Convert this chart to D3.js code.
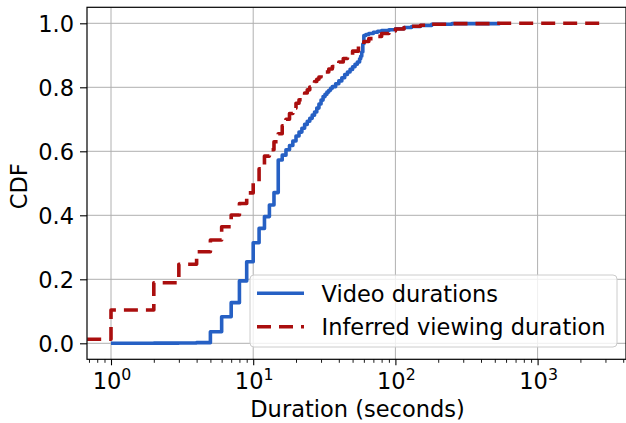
<!DOCTYPE html>
<html>
<head>
<meta charset="utf-8">
<script src="https://cdn.jsdelivr.net/npm/d3@7"></script>
<style>
  html, body { margin: 0; padding: 0; background: #fff; }
  svg { display: block; font-family: "DejaVu Sans", sans-serif; }
</style>
</head>
<body>
<svg id="chart" width="626" height="423"></svg>
<script>
// ---- data ----
const blueName = "Video durations";
const redName = "Inferred viewing duration";
const blueX = [1,2,3,4,5,6,7,8,9,10,11,12,13,14,15,16,17,18,19,20,21,22,23,24,25,26,27,28,29,30,31,32,33,34,35,36,38,40,42,44,46,48,50,52,54,56,57,58,59,60,62,65,70,75,80,90,100,115,130,150,180,250,540];
const blueY = [0.0,0.0005,0.001,0.002,0.036,0.083,0.127,0.195,0.255,0.314,0.359,0.396,0.432,0.471,0.573,0.588,0.605,0.618,0.632,0.648,0.66,0.672,0.684,0.694,0.703,0.713,0.723,0.735,0.748,0.76,0.771,0.778,0.785,0.791,0.797,0.802,0.811,0.82,0.83,0.84,0.848,0.856,0.864,0.872,0.879,0.889,0.897,0.91,0.935,0.962,0.965,0.968,0.972,0.975,0.977,0.98,0.983,0.987,0.99,0.993,0.997,0.999,1.0];
const redX = [0.68,1,2,3,4,5,6,7,8,9,10,11,12,13,14,15,16,17,18,19,20,21,22,23,24,25,26,27,28,29,30,32,34,36,38,40,43,46,50,55,60,65,70,80,90,100,115,130,150,175,250,500,2800];
const redY = [0.0125,0.104,0.189,0.247,0.286,0.323,0.364,0.401,0.437,0.470,0.505,0.545,0.585,0.605,0.63,0.655,0.68,0.70,0.718,0.735,0.75,0.761,0.772,0.782,0.792,0.801,0.81,0.818,0.825,0.832,0.838,0.848,0.857,0.865,0.872,0.879,0.89,0.901,0.913,0.928,0.943,0.952,0.959,0.968,0.976,0.982,0.987,0.991,0.994,0.997,0.999,1.0,1.0];
const xMajorTicks = [1, 10, 100, 1000];
const xTickExp = ["0", "1", "2", "3"];
const yTicks = [0, 0.2, 0.4, 0.6, 0.8, 1.0];
const yTickLabels = ["0.0", "0.2", "0.4", "0.6", "0.8", "1.0"];
const xLabel = "Duration (seconds)";
const yLabel = "CDF";

// ---- layout ----
const L = 87, R = 626, T = 7.3, B = 359.3;
const FS = 22.5;
const blueColor = "#2660c4";
const redColor = "#aa0e0e";
const LW = 3.6;
const DASH = "14,8";

const svg = d3.select("#chart");
svg.append("rect").attr("width", 626).attr("height", 423).attr("fill", "#fff");

const x = d3.scaleLog().domain([Math.pow(10, -0.1688), Math.pow(10, 3.6217)]).range([L, R]);
const y = d3.scaleLinear().domain([-0.05, 1.05]).range([B, T]);

// grid
const grid = svg.append("g");
grid.selectAll(".gx").data(xMajorTicks).enter().append("line")
  .attr("x1", d => x(d)).attr("x2", d => x(d)).attr("y1", T).attr("y2", B)
  .attr("stroke", "#b0b0b0").attr("stroke-width", 1);
grid.selectAll(".gy").data(yTicks).enter().append("line")
  .attr("x1", L).attr("x2", R).attr("y1", d => y(d)).attr("y2", d => y(d))
  .attr("stroke", "#b0b0b0").attr("stroke-width", 1);

// lines
const line = d3.line().x(d => x(d[0])).y(d => y(d[1])).curve(d3.curveStepAfter);
const blueData = blueX.map((v, i) => [v, blueY[i]]);
const redData = redX.map((v, i) => [v, redY[i]]);

svg.append("clipPath").attr("id", "clip").append("rect")
  .attr("x", L).attr("y", T).attr("width", R - L).attr("height", B - T);

const plot = svg.append("g").attr("clip-path", "url(#clip)");
plot.append("path").datum(blueData).attr("d", line)
  .attr("fill", "none").attr("stroke", blueColor).attr("stroke-width", LW)
  .attr("stroke-linejoin", "round");
plot.append("path").datum(redData).attr("d", line)
  .attr("fill", "none").attr("stroke", redColor).attr("stroke-width", LW)
  .attr("stroke-linejoin", "round")
  .attr("stroke-dasharray", DASH);

// axes
const xAxis = d3.axisBottom(x).tickValues(xMajorTicks).tickSize(6).tickFormat("");
const xMinor = [];
for (let e = -1; e <= 3; e++) for (let m = 2; m <= 9; m++) {
  const v = m * Math.pow(10, e);
  if (v > x.domain()[0] && v < x.domain()[1]) xMinor.push(v);
}
const xAxisMinor = d3.axisBottom(x).tickValues(xMinor).tickSize(3.5).tickFormat("");
const gxm = svg.append("g").attr("transform", `translate(0,${B})`).call(xAxisMinor);
gxm.select(".domain").remove();
gxm.selectAll("line").attr("stroke", "#000").attr("stroke-width", 0.9);
const gx = svg.append("g").attr("transform", `translate(0,${B})`).call(xAxis);
gx.select(".domain").remove();
gx.selectAll("line").attr("stroke", "#000").attr("stroke-width", 1.1);

const yAxis = d3.axisLeft(y).tickValues(yTicks).tickSize(7).tickFormat("");
const gy = svg.append("g").attr("transform", `translate(${L},0)`).call(yAxis);
gy.select(".domain").remove();
gy.selectAll("line").attr("stroke", "#000").attr("stroke-width", 1.1);

// spines
svg.append("rect").attr("x", L).attr("y", T).attr("width", R - L).attr("height", B - T)
  .attr("fill", "none").attr("stroke", "#000").attr("stroke-width", 1.2);

// tick labels
svg.selectAll(".ytl").data(yTicks).enter().append("text")
  .attr("x", 74).attr("y", d => y(d) + 8.2)
  .attr("text-anchor", "end").attr("font-size", FS).attr("fill", "#000")
  .text((d, i) => yTickLabels[i]);

xMajorTicks.forEach((v, i) => {
  const t = svg.append("text").attr("x", x(v) + 1).attr("y", 388.5)
    .attr("text-anchor", "middle").attr("font-size", FS).attr("fill", "#000");
  t.append("tspan").text("10");
  t.append("tspan").attr("dy", -8.3).attr("font-size", FS * 0.7).text(xTickExp[i]);
});

// axis labels
svg.append("text").attr("x", (L + R) / 2 + 1).attr("y", 417)
  .attr("text-anchor", "middle").attr("font-size", FS).attr("fill", "#000").text(xLabel);
svg.append("text").attr("transform", `translate(27,${(T + B) / 2 + 3}) rotate(-90)`)
  .attr("text-anchor", "middle").attr("font-size", FS).attr("fill", "#000").text(yLabel);

// legend
const lg = svg.append("g");
lg.append("rect").attr("x", 250).attr("y", 275).attr("width", 367).attr("height", 72)
  .attr("rx", 4).attr("fill", "#fff").attr("fill-opacity", 0.8)
  .attr("stroke", "#cccccc").attr("stroke-width", 1);
const legendItems = [
  {name: blueName, color: blueColor, dash: null, y: 293.3},
  {name: redName, color: redColor, dash: DASH, y: 326.7}
];
legendItems.forEach(it => {
  lg.append("line").attr("x1", 257).attr("x2", 304).attr("y1", it.y).attr("y2", it.y)
    .attr("stroke", it.color).attr("stroke-width", LW)
    .attr("stroke-dasharray", it.dash);
  lg.append("text").attr("x", 321.5).attr("y", it.y + 8.3)
    .attr("font-size", FS).attr("fill", "#000").text(it.name);
});
</script>
</body>
</html>
